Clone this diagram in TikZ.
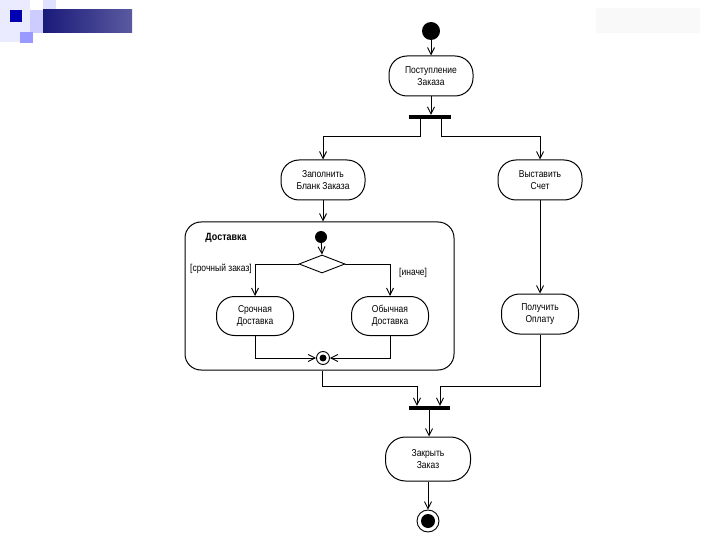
\documentclass[tikz,border=0pt]{standalone}
\usepackage{fontspec}
\setmainfont{Liberation Sans}
\newfontfamily\nf{Liberation Sans}[FakeStretch=0.85]
\usetikzlibrary{arrows.meta,shapes.geometric}
\begin{document}
\begin{tikzpicture}[x=1pt,y=-1pt,
  act/.style={draw, line width=1pt, rounded corners=18pt, minimum width=84pt,
    minimum height=40pt, align=center, inner sep=0pt,
    font=\nf\fontsize{10}{12}\selectfont},
  actsmall/.style={act, minimum width=77pt, minimum height=39pt},
  barnode/.style={fill=black, draw=none, minimum width=42pt, minimum height=4pt, inner sep=0pt},
  flow/.style={line width=0.9pt, -{Straight Barb[length=7pt,width=7pt]}},
  guard/.style={font=\nf\fontsize{10}{12}\selectfont, inner sep=0pt},
  dot/.style={circle, fill=black, draw=none, inner sep=0pt}
]
\useasboundingbox (0,0) rectangle (720,540);
\fill[white] (0,0) rectangle (720,540);
% slide decoration
\fill[blue!8!white] (0,0) rectangle (30,42);
\fill[blue!12!white] (43,0) rectangle (56,20);
\fill[blue!20!white] (30,10) rectangle (56,33);
\fill[blue!40!white] (20,32) rectangle (33,43);
\fill[blue!70!black] (10,10) rectangle (22,22);
\shade[left color={rgb,255:red,26;green,26;blue,122}, right color={rgb,255:red,90;green,90;blue,160}] (43,10) rectangle (132,33);
\fill[gray!5] (596,8) rectangle (700,33);

% main flow
\node[dot, minimum size=18pt] (start) at (431,31) {};
\node[act] (recv) at (431,76) {Поступление\\Заказа};
\node[barnode] (fork) at (430,117) {};
\node[act] (fill) at (323,180) {Заполнить\\Бланк Заказа};
\node[act] (bill) at (540,180) {Выставить\\Счет};

\node[draw, line width=1pt, rounded corners=16pt, minimum width=269pt,
      minimum height=148pt, inner sep=0pt] (deliv) at (319.5,296) {};
\node[font=\nf\bfseries\fontsize{10.5}{12}\selectfont, inner sep=0pt] (dlabel) at (226,238) {Доставка};
\node[dot, minimum size=12pt] (istart) at (321,237) {};
\node[draw, diamond, line width=0.9pt, aspect=2.5, minimum width=46pt,
      minimum height=18pt, inner sep=0pt] (dec) at (322,264) {};
\node[actsmall] (urgent) at (255,316) {Срочная\\Доставка};
\node[actsmall] (normal) at (390,316) {Обычная\\Доставка};
\node[draw, circle, line width=0.9pt, minimum size=13pt, inner sep=0pt] (dend) at (323,358) {};
\fill (dend.center) circle (3.5);
\node[guard, anchor=east] (g1) at (252,269) {[срочный заказ]};
\node[guard, anchor=west] (g2) at (399,273) {[иначе]};

\node[actsmall, minimum height=40pt] (pay) at (540,314) {Получить\\Оплату};
\node[barnode, minimum width=41pt] (join) at (429,408) {};
\node[act, minimum width=85pt, minimum height=44pt, rounded corners=20pt] (close) at (428,459) {Закрыть\\Заказ};
\node[draw, circle, line width=0.9pt, minimum size=22pt, inner sep=0pt] (end) at (428,521) {};
\fill (end.center) circle (7);

% connectors
\draw[flow] (start) -- (recv);
\draw[flow] (recv.south) -- (recv.south |- fork.north);
\draw[flow] ([xshift=-10pt]fork.south) -- ++(0,17) -| (fill.north);
\draw[flow] ([xshift=11pt]fork.south) -- ++(0,17) -| (bill.north);
\draw[flow] (fill.south) -- (fill.south |- deliv.north);
\draw[flow] (istart) -- (dec.north);
\draw[flow] (dec.west) -| (urgent.north);
\draw[flow] (dec.east) -| (normal.north);
\draw[flow] (urgent.south) |- (dend.west);
\draw[flow] (normal.south) |- (dend.east);
\draw[flow] (bill.south) -- (pay.north);
\draw[flow] ([xshift=2.5pt]deliv.south) -- ++(0,16) -| ([xshift=-12pt]join.north);
\draw[flow] (pay.south) -- ++(0,52) -| ([xshift=11pt]join.north);
\draw[flow] (join.south) -- (join.south |- close.north);
\draw[flow] (close) -- (end);
\end{tikzpicture}
\end{document}
